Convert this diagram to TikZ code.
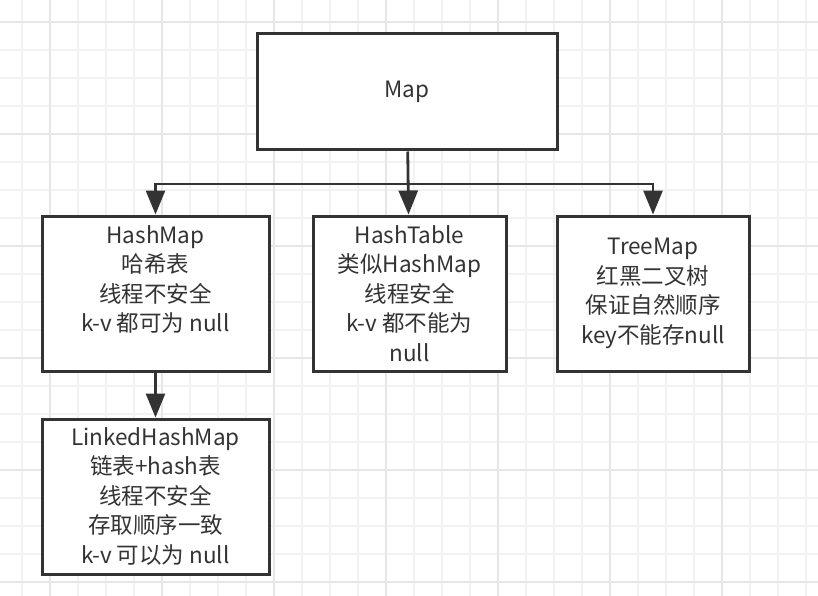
\documentclass[tikz,border=0pt]{standalone}
\usepackage{fontspec}
\setmainfont{Noto Sans CJK SC}
\usetikzlibrary{positioning,arrows.meta}
\definecolor{MapInk}{HTML}{333333}
\definecolor{GridFine}{HTML}{F2F2F2}
\definecolor{GridMajor}{HTML}{E6E6E6}

\begin{document}
\begin{tikzpicture}[x=1pt,y=-1pt,
    mbox/.style={draw=MapInk,line width=3pt,fill=white,align=center,
      text=MapInk,font=\fontsize{22.5}{29.5}\selectfont,
      inner sep=0pt,minimum width=227pt,minimum height=155pt},
    link/.style={draw=MapInk,line width=2.8pt,
      -{Triangle[length=24pt,width=19pt]}}
  ]
    \useasboundingbox (0,0) rectangle (818,596);
    \fill[white] (0,0) rectangle (818,596);
    % background grid
    \foreach \gx in {22,50,...,806}
      \draw[GridFine,line width=1.2pt] (\gx,0) -- (\gx,596);
    \foreach \gy in {22,50,...,590}
      \draw[GridFine,line width=1.2pt] (0,\gy) -- (818,\gy);
    \foreach \gx in {50,162,...,780}
      \draw[GridMajor,line width=1.4pt] (\gx,0) -- (\gx,596);
    \foreach \gy in {22,134,...,590}
      \draw[GridMajor,line width=1.4pt] (0,\gy) -- (818,\gy);

    \node[mbox,minimum width=300pt,minimum height=116pt] (map) at (407,92) {Map};
    \node[mbox] (hm) at (155.5,293.5) {HashMap\\哈希表\\线程不安全\\k-v 都可为 null\\~};
    \node[mbox,minimum width=193pt,right=41pt of hm] (ht) {HashTable\\类似HashMap\\线程安全\\k-v 都不能为\\null};
    \node[mbox,minimum width=192pt,right=48pt of ht] (tm) {TreeMap\\红黑二叉树\\保证自然顺序\\key不能存null};
    \node[mbox,below=45pt of hm] (lhm) {LinkedHashMap\\链表+hash表\\线程不安全\\存取顺序一致\\k-v 可以为 null};

    \coordinate (bus) at (407,184);
    \draw[link] (map) -- (ht);
    \draw[link] (bus) -| (hm);
    \draw[link] (bus) -| (tm);
    \draw[link] (hm) -- (lhm);
  \end{tikzpicture}
\end{document}
